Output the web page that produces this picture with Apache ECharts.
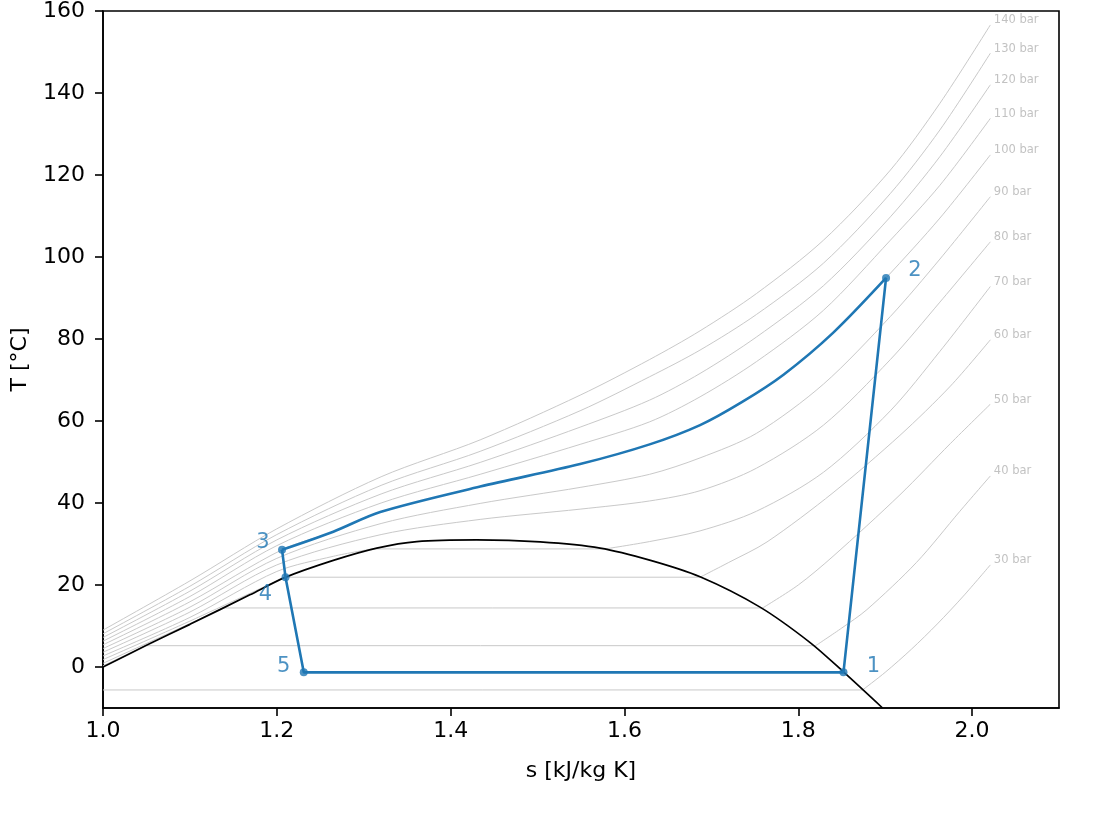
<!DOCTYPE html>
<html>
<head>
<meta charset="utf-8">
<script src="https://cdn.jsdelivr.net/npm/echarts@6/dist/echarts.min.js"></script>
<style>
html,body{margin:0;padding:0;background:#fff;}
#chart{width:1120px;height:814px;}
</style>
</head>
<body>
<div id="chart"></div>
<script>
// ---- tick labels ----
const sTicks = [1.0, 1.2, 1.4, 1.6, 1.8, 2.0];
const tTicks = [0, 20, 40, 60, 80, 100, 120, 140, 160];

// ---- saturation dome [s, T] ----
const dome = [[1.0,0],[1.05,5.3],[1.1,10.4],[1.169,17.6],[1.209,21.8],[1.265,26.0],[1.315,29.0],[1.361,30.6],[1.43,31.0],[1.503,30.5],[1.572,29.0],[1.63,26.0],[1.687,22.0],[1.756,14.6],[1.814,5.9],[1.852,-1.2],[1.897,-10.0]];

// ---- isobars, each a list of segments of [s, T] ----
const isobar30 = [
  [[1.0,-5.6],[1.874,-5.6]],
  [[1.874,-5.6],[1.90,-1.3],[1.93,4.3],[1.96,10.5],[1.99,17.3],[2.021,24.9]]
];
const isobar40 = [
  [[1.0,0.3],[1.049,5.2]],
  [[1.049,5.2],[1.82,5.2]],
  [[1.82,5.2],[1.85,9.5],[1.879,14.0],[1.936,25.5],[1.986,38.0],[2.021,46.6]]
];
const isobar50 = [
  [[1.0,0.9],[1.1,10.6],[1.138,14.4]],
  [[1.138,14.4],[1.759,14.4]],
  [[1.759,14.4],[1.80,20.0],[1.84,27.0],[1.917,42.0],[1.975,54.5],[2.021,64.1]]
];
const isobar60 = [
  [[1.0,1.8],[1.1,11.2],[1.209,21.9]],
  [[1.209,21.9],[1.687,21.9]],
  [[1.687,21.9],[1.72,25.5],[1.764,30.5],[1.84,42.5],[1.917,56.5],[1.975,68.5],[2.021,79.8]]
];
const isobar70 = [
  [[1.0,2.7],[1.1,12.1],[1.2,23.3],[1.265,27.0],[1.31,28.8]],
  [[1.31,28.8],[1.578,28.8]],
  [[1.578,28.8],[1.629,30.6],[1.687,33.2],[1.752,38.0],[1.829,47.5],[1.906,62.5],[1.963,77.0],[2.021,92.8]]
];
const isobar80 = [
  [[1.0,3.6],[1.1,13.4],[1.2,24.9],[1.32,32.3],[1.434,36.0],[1.549,38.5],[1.629,40.5],[1.687,43.0],[1.752,48.5],[1.829,59.0],[1.906,75.0],[1.963,89.0],[2.021,103.7]]
];
const isobar90 = [
  [[1.0,4.5],[1.1,14.6],[1.2,26.5],[1.32,35.0],[1.434,39.9],[1.549,43.8],[1.629,47.0],[1.687,51.0],[1.752,57.0],[1.829,69.0],[1.906,85.5],[1.963,99.5],[2.021,114.7]]
];
const isobar100 = [
  [[1.0,5.4],[1.1,15.9],[1.206,28.6],[1.265,33.0],[1.319,37.8],[1.434,44.0],[1.549,49.5],[1.629,54.3],[1.687,59.0],[1.735,64.6],[1.783,71.3],[1.840,81.5],[1.901,94.9],[1.963,109.5],[2.021,124.9]]
];
const isobar110 = [
  [[1.0,6.3],[1.1,17.2],[1.2,29.6],[1.32,40.0],[1.434,47.0],[1.549,54.3],[1.629,59.8],[1.687,65.9],[1.752,74.5],[1.829,87.0],[1.906,104.1],[1.963,117.5],[2.021,133.8]]
];
const isobar120 = [
  [[1.0,7.2],[1.1,18.5],[1.2,31.0],[1.32,42.2],[1.434,49.9],[1.549,58.5],[1.629,65.1],[1.687,71.6],[1.752,80.5],[1.829,93.0],[1.906,109.8],[1.963,124.5],[2.021,142.0]]
];
const isobar130 = [
  [[1.0,8.1],[1.1,19.7],[1.2,32.3],[1.32,44.3],[1.434,52.6],[1.549,62.5],[1.629,70.8],[1.687,77.3],[1.752,86.0],[1.829,98.5],[1.906,115.5],[1.963,131.0],[2.021,149.7]]
];
const isobar140 = [
  [[1.0,9.0],[1.1,21.0],[1.2,33.7],[1.32,46.4],[1.434,55.4],[1.549,66.3],[1.629,75.0],[1.687,82.0],[1.752,91.1],[1.829,104.1],[1.906,121.2],[1.963,137.5],[2.021,156.6]]
];
const pressures = [30, 40, 50, 60, 70, 80, 90, 100, 110, 120, 130, 140];
const isobars = [isobar30, isobar40, isobar50, isobar60, isobar70, isobar80, isobar90, isobar100, isobar110, isobar120, isobar130, isobar140];

// ---- cycle ----
const stateNames = ['1', '2', '3', '4', '5'];
const stateS = [1.852, 1.901, 1.206, 1.210, 1.231];
const stateT = [-1.3, 94.9, 28.6, 21.9, -1.3];
// gas cooler 3 -> 2 along the high pressure isobar
const gasCooler = [[1.206,28.6],[1.265,33.0],[1.319,37.8],[1.434,44.0],[1.549,49.5],[1.629,54.3],[1.687,59.0],[1.735,64.6],[1.783,71.3],[1.840,81.5],[1.901,94.9]];

// ---- build chart ----
const FONT = 'DejaVu Sans';
const BLUE = '#1f77b4';
const series = [];

isobars.forEach(function (segs) {
  segs.forEach(function (seg) {
    series.push({
      type: 'line', data: seg, showSymbol: false, silent: true, z: 1,
      smooth: seg.length > 2 ? 0.3 : false,
      lineStyle: { color: '#c9c9c9', width: 1 }
    });
  });
});

series.push({
  type: 'scatter', silent: true, z: 2, symbolSize: 1,
  itemStyle: { color: 'rgba(0,0,0,0)' },
  data: isobars.map(function (segs, i) {
    const last = segs[segs.length - 1];
    const p = last[last.length - 1];
    return [p[0], p[1], pressures[i] + ' bar'];
  }),
  label: {
    show: true, position: 'right', distance: 3, offset: [0, -4.5],
    formatter: function (p) { return p.data[2]; },
    color: '#b3b3b3', fontSize: 11.5, fontFamily: FONT
  }
});

series.push({
  type: 'line', data: dome, showSymbol: false, silent: true, z: 3,
  smooth: 0.3,
  lineStyle: { color: '#000', width: 1.7 }
});

series.push({
  type: 'line', data: gasCooler, showSymbol: false, silent: true, z: 4,
  smooth: 0.3,
  lineStyle: { color: BLUE, width: 2.6 }
});

// 2 -> 1 -> 5 -> 4 -> 3 straight segments
const pathOrder = [1, 0, 4, 3, 2];
series.push({
  type: 'line', showSymbol: false, silent: true, z: 4,
  data: pathOrder.map(function (i) { return [stateS[i], stateT[i]]; }),
  lineStyle: { color: BLUE, width: 2.6 }
});

const labelOffsets = [[30, -6], [29, -7], [-19, -7], [-20, 17], [-20, -6]];
series.push({
  type: 'scatter', silent: true, z: 5, symbolSize: 8,
  itemStyle: { color: BLUE },
  data: stateNames.map(function (n, i) {
    return {
      value: [stateS[i], stateT[i], n],
      label: { offset: labelOffsets[i] }
    };
  }),
  label: {
    show: true, position: 'inside',
    formatter: function (p) { return p.data.value[2]; },
    color: BLUE, fontSize: 21, fontFamily: FONT
  }
});

const axisCommon = {
  type: 'value',
  splitLine: { show: false },
  axisLine: { show: true, onZero: false, lineStyle: { color: '#000', width: 1.6 } },
  nameLocation: 'middle',
  nameTextStyle: { color: '#000', fontSize: 22, fontFamily: FONT }
};

const option = {
  animation: false,
  backgroundColor: '#fff',
  grid: { left: 103, right: 61, top: 11, bottom: 106, containLabel: false, outerBoundsMode: 'none', show: true, borderColor: '#000', borderWidth: 1.6, backgroundColor: 'transparent' },
  xAxis: Object.assign({}, axisCommon, {
    min: 1.0, max: 2.1,
    name: 's [kJ/kg K]', nameGap: 52,
    axisTick: { show: true, customValues: sTicks, length: 8, lineStyle: { color: '#000', width: 1.6 } },
    axisLabel: { customValues: sTicks, formatter: function (v) { return v.toFixed(1); }, color: '#000', fontSize: 22, fontFamily: FONT, margin: 12 }
  }),
  yAxis: Object.assign({}, axisCommon, {
    min: -10, max: 160,
    name: 'T [°C]', nameGap: 72, nameRotate: 90,
    axisTick: { show: true, customValues: tTicks, length: 8, lineStyle: { color: '#000', width: 1.6 } },
    axisLabel: { customValues: tTicks, color: '#000', fontSize: 22, fontFamily: FONT, margin: 18 }
  }),
  series: series
};

const chart = echarts.init(document.getElementById('chart'), null, { renderer: 'canvas' });
chart.setOption(option);
</script>
</body>
</html>
